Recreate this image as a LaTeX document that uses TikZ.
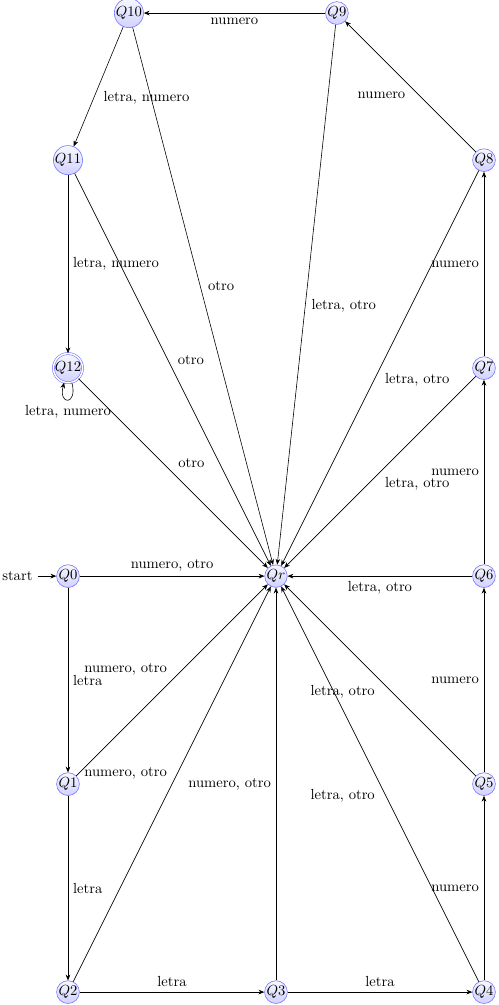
\documentclass[tikz,border=0pt]{standalone}
\usepackage{amsmath}
\usetikzlibrary{arrows.meta, positioning}

\begin{document}
\begin{tikzpicture}[
  auto,
  st/.style={circle, draw=blue!55, top color=blue!3, bottom color=blue!18,
             inner sep=0pt, minimum size=15pt},
  acc/.style={st, double, double distance=1pt},
  arrow/.style={-{Stealth[length=4pt, width=3.2pt]}}
]
\useasboundingbox (-1.635,-10.31) rectangle (10.36,13.85);
% estados
\node[st]  (q0)  at (0,0)            {$Q0$};
\node[st]  (qr)  at (5,0)            {$Qr$};
\node[st]  (q6)  at (10,0)           {$Q6$};
\node[st]  (q1)  at (0,-5)           {$Q1$};
\node[st]  (q5)  at (10,-5)          {$Q5$};
\node[st]  (q2)  at (0,-10)          {$Q2$};
\node[st]  (q3)  at (5,-10)          {$Q3$};
\node[st]  (q4)  at (10,-10)         {$Q4$};
\node[acc] (q12) at (0,5)            {$Q12$};
\node[st]  (q7)  at (10,5)           {$Q7$};
\node[st]  (q11) at (0,10)           {$Q11$};
\node[st]  (q8)  at (10,10)          {$Q8$};
\node[st]  (q9)  at (6.464,13.536)   {$Q9$};
\node[st]  (q10) at (1.464,13.536)   {$Q10$};
\node      (start) [left=0.45cm of q0] {start};
% transiciones
\draw[arrow] (start) -- (q0);
\draw[arrow] (q0)  -- node{numero, otro} (qr);
\draw[arrow] (q0)  -- node{letra} (q1);
\draw[arrow] (q1)  -- node{numero, otro} (qr);
\draw[arrow] (q1)  -- node{letra} (q2);
\draw[arrow] (q2)  -- node{numero, otro} (qr);
\draw[arrow] (q2)  -- node{letra} (q3);
\draw[arrow] (q3)  -- node{numero, otro} (qr);
\draw[arrow] (q3)  -- node{letra} (q4);
\draw[arrow] (q4)  -- node{letra, otro} (qr);
\draw[arrow] (q4)  -- node{numero} (q5);
\draw[arrow] (q5)  -- node{letra, otro} (qr);
\draw[arrow] (q5)  -- node{numero} (q6);
\draw[arrow] (q6)  -- node{letra, otro} (qr);
\draw[arrow] (q6)  -- node{numero} (q7);
\draw[arrow] (q7)  -- node{letra, otro} (qr);
\draw[arrow] (q7)  -- node{numero} (q8);
\draw[arrow] (q8)  -- node{letra, otro} (qr);
\draw[arrow] (q8)  -- node{numero} (q9);
\draw[arrow] (q9)  -- node{letra, otro} (qr);
\draw[arrow] (q9)  -- node{numero} (q10);
\draw[arrow] (q10) -- node{otro} (qr);
\draw[arrow] (q10) -- node{letra, numero} (q11);
\draw[arrow] (q11) -- node{otro} (qr);
\draw[arrow] (q11) -- node{letra, numero} (q12);
\draw[arrow] (q12) -- node{otro} (qr);
\draw[arrow] (q12) to[loop below] node{letra, numero} (q12);
\end{tikzpicture}
\end{document}
